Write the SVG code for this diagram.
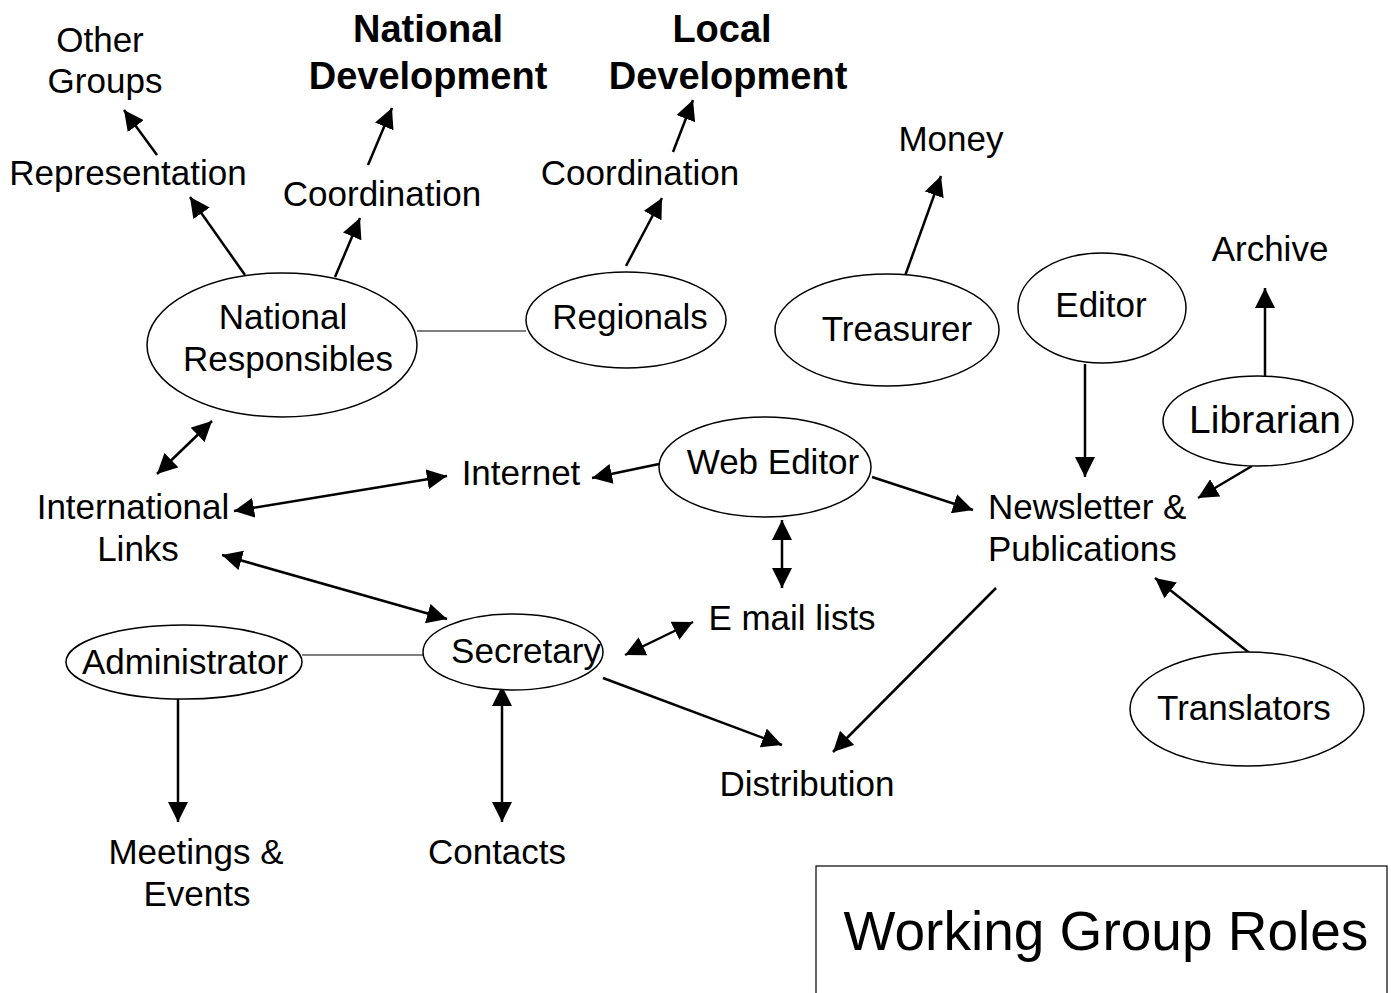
<svg xmlns="http://www.w3.org/2000/svg" width="1391" height="993" viewBox="0 0 1391 993">
<defs>
<marker id="ah" viewBox="0 0 20 20" refX="20" refY="10" markerWidth="20" markerHeight="20" markerUnits="userSpaceOnUse" orient="auto-start-reverse">
<path d="M0,0 L20,10 L0,20 z" fill="#000"/>
</marker>
<style>
text{font-family:"Liberation Sans",Arial,sans-serif;font-size:35px;fill:#000;text-anchor:middle}
.b{font-weight:bold;font-size:38px}
.l{text-anchor:start}
ellipse{fill:#fff;stroke:#000;stroke-width:1.5}
.c line{stroke:#000;stroke-width:2.5}
.c line.p{stroke-width:1.2}
.a{marker-end:url(#ah)}
.d{marker-start:url(#ah);marker-end:url(#ah)}
</style>
</defs>
<rect width="1391" height="993" fill="#fff"/>
<g class="c" id="connectors">
<line class="a" x1="157" y1="155" x2="124" y2="110"/>
<line class="a" x1="245" y1="275" x2="190" y2="197"/>
<line class="a" x1="335" y1="277" x2="360" y2="218"/>
<line class="a" x1="368" y1="165" x2="392" y2="108"/>
<line class="a" x1="626" y1="266" x2="662" y2="198"/>
<line class="a" x1="673" y1="152" x2="693" y2="100"/>
<line class="a" x1="905" y1="276" x2="941" y2="176"/>
<line class="p" x1="417" y1="331" x2="526" y2="331"/>
<line class="d" x1="157" y1="474" x2="212" y2="421"/>
<line class="d" x1="234" y1="511" x2="447" y2="476"/>
<line class="d" x1="222" y1="555" x2="447" y2="619"/>
<line class="a" x1="659" y1="464" x2="592" y2="478"/>
<line class="a" x1="872" y1="477" x2="973" y2="510"/>
<line class="d" x1="782" y1="520" x2="782" y2="588"/>
<line class="d" x1="625" y1="655" x2="693" y2="622"/>
<line class="p" x1="302" y1="655" x2="424" y2="655"/>
<line class="a" x1="178" y1="699" x2="178" y2="822"/>
<line class="d" x1="502" y1="686" x2="502" y2="822"/>
<line class="a" x1="603" y1="678" x2="782" y2="745"/>
<line class="a" x1="996" y1="588" x2="833" y2="752"/>
<line class="a" x1="1085" y1="364" x2="1085" y2="477"/>
<line class="a" x1="1265" y1="377" x2="1265" y2="288"/>
<line class="a" x1="1252" y1="466" x2="1198" y2="498"/>
<line class="a" x1="1252" y1="655" x2="1155" y2="578"/>
</g>
<g id="other-groups"><text x="100" y="52">Other</text><text x="105" y="93">Groups</text></g>
<g id="national-development"><text class="b" x="428" y="42">National</text><text class="b" x="428" y="89">Development</text></g>
<g id="local-development"><text class="b" x="722" y="42">Local</text><text class="b" x="728" y="89">Development</text></g>
<g id="representation"><text x="128" y="185">Representation</text></g>
<g id="coordination-national"><text x="382" y="206">Coordination</text></g>
<g id="coordination-local"><text x="640" y="185">Coordination</text></g>
<g id="money"><text x="951" y="151">Money</text></g>
<g id="archive"><text x="1270" y="261">Archive</text></g>
<g id="national-responsibles"><ellipse cx="282" cy="345" rx="135" ry="72"/><text x="283" y="329">National</text><text x="288" y="371">Responsibles</text></g>
<g id="regionals"><ellipse cx="626" cy="320" rx="100" ry="48"/><text x="630" y="329">Regionals</text></g>
<g id="treasurer"><ellipse cx="887" cy="330" rx="112" ry="56"/><text x="897" y="341">Treasurer</text></g>
<g id="editor"><ellipse cx="1102" cy="308" rx="84" ry="55"/><text x="1101" y="317">Editor</text></g>
<g id="librarian"><ellipse cx="1258" cy="421" rx="95" ry="45"/><text x="1265" y="433" style="font-size:39px">Librarian</text></g>
<g id="web-editor"><ellipse cx="765" cy="467" rx="106" ry="50"/><text x="773" y="474">Web Editor</text></g>
<g id="internet"><text x="521" y="485">Internet</text></g>
<g id="international-links"><text x="133" y="519">International</text><text x="138" y="561">Links</text></g>
<g id="newsletter"><text class="l" x="988" y="519">Newsletter &amp;</text><text class="l" x="988" y="561">Publications</text></g>
<g id="email-lists"><text x="792" y="630">E mail lists</text></g>
<g id="administrator"><ellipse cx="184" cy="662" rx="118" ry="37"/><text x="185" y="674">Administrator</text></g>
<g id="secretary"><ellipse cx="513" cy="652" rx="90" ry="38"/><text x="526" y="663">Secretary</text></g>
<g id="translators"><ellipse cx="1247" cy="709" rx="117" ry="57"/><text x="1244" y="720">Translators</text></g>
<g id="distribution"><text x="807" y="796">Distribution</text></g>
<g id="meetings"><text x="196" y="864">Meetings &amp;</text><text x="197" y="906">Events</text></g>
<g id="contacts"><text x="497" y="864">Contacts</text></g>
<g id="title"><rect x="816" y="866" width="571" height="140" fill="none" stroke="#000" stroke-width="1.2"/><text x="1106" y="950" style="font-size:55px">Working Group Roles</text></g>
</svg>
